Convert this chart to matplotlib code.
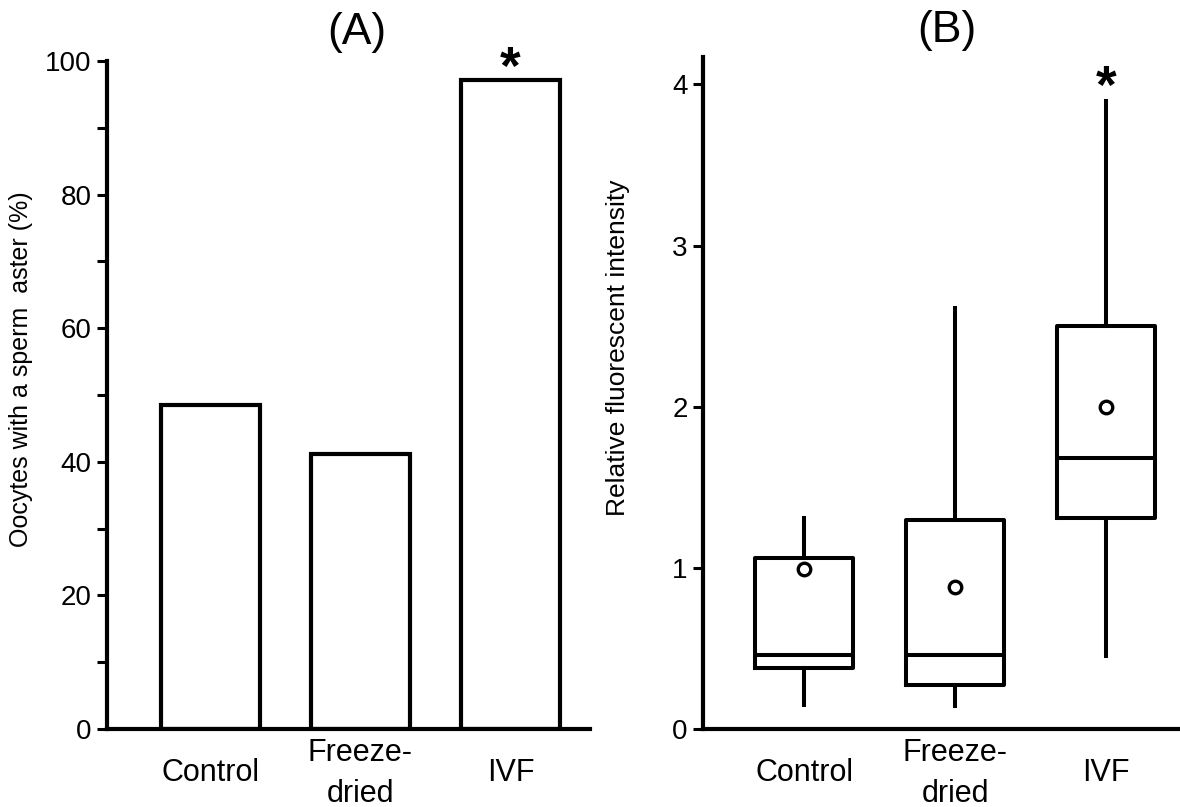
import matplotlib
matplotlib.use("Agg")
import matplotlib.pyplot as plt

plt.rcParams['font.family'] = ['Liberation Sans', 'DejaVu Sans']

# Datos
categorias = ['Control', 'Freeze-\ndried', 'IVF']
aster_pct = [48.5, 41.2, 97.2]

# cajas (B)
q1 = [0.38, 0.27, 1.31]
mediana = [0.46, 0.46, 1.68]
q3 = [1.06, 1.30, 2.50]
bigote_bajo = [0.15, 0.14, 0.45]
bigote_alto = [1.31, 2.61, 3.90]
media = [0.99, 0.88, 2.00]

W, H = 1180, 807
fig = plt.figure(figsize=(W / 100, H / 100), dpi=100)

def px_axes(x0, x1, y_top, y_bot):
    return fig.add_axes([x0 / W, (H - y_bot) / H, (x1 - x0) / W, (y_bot - y_top) / H])

axA = px_axes(107, 590, 61, 729)
axB = px_axes(703, 1180, 57, 729)

pos = [0, 1, 2]
lw = 3.0
blw = 2.9

# Panel A
axA.bar(pos, aster_pct, width=0.66, facecolor='white', edgecolor='black', linewidth=lw)
axA.set_ylim(0, 100)
axA.set_xlim(-0.687, 2.53)
axA.set_yticks(range(0, 101, 20))
axA.set_yticks(range(10, 100, 20), minor=True)
axA.set_ylabel('Oocytes with a sperm  aster (%)', fontsize=18)
axA.yaxis.set_label_coords(-0.153, 0.539)
axA.text(0.518, 1.043, '(A)', transform=axA.transAxes, fontsize=32, ha='center', va='center')
axA.text(2, 98.6, '*', fontsize=38, fontweight='bold', ha='center', va='center')

# Panel B
stats = []
for i in range(3):
    stats.append(dict(med=mediana[i], q1=q1[i], q3=q3[i], whislo=bigote_bajo[i],
                      whishi=bigote_alto[i], mean=media[i], fliers=[]))
axB.bxp(stats, positions=pos, widths=0.65, showcaps=False, showmeans=True,
        boxprops=dict(color='black', linewidth=blw),
        whiskerprops=dict(color='black', linewidth=blw),
        medianprops=dict(color='black', linewidth=blw),
        meanprops=dict(marker='o', markerfacecolor='white', markeredgecolor='black',
                       markersize=9, markeredgewidth=2.4))
axB.set_ylim(0, 4.17)
axB.set_xlim(-0.67, 2.49)
axB.set_yticks([0, 1, 2, 3, 4])
axB.set_ylabel('Relative fluorescent intensity', fontsize=19)
axB.yaxis.set_label_coords(-0.153, 0.567)
axB.text(0.511, 1.04, '(B)', transform=axB.transAxes, fontsize=32, ha='center', va='center')
axB.text(2, 3.97, '*', fontsize=38, fontweight='bold', ha='center', va='center')

for ax in (axA, axB):
    for s in ('top', 'right'):
        ax.spines[s].set_visible(False)
    for s in ('left', 'bottom'):
        ax.spines[s].set_linewidth(lw)
    ax.set_xticks(pos)
    ax.set_xticklabels(categorias)
    ax.tick_params(axis='x', length=0, pad=32, labelsize=22)
    ax.tick_params(axis='y', which='both', direction='out', length=7, width=2.2,
                   labelsize=20, pad=4)
    for lab in ax.get_xticklabels():
        lab.set_va('center')
        lab.set_linespacing(1.45)

fig.savefig('out.png', dpi=100)
